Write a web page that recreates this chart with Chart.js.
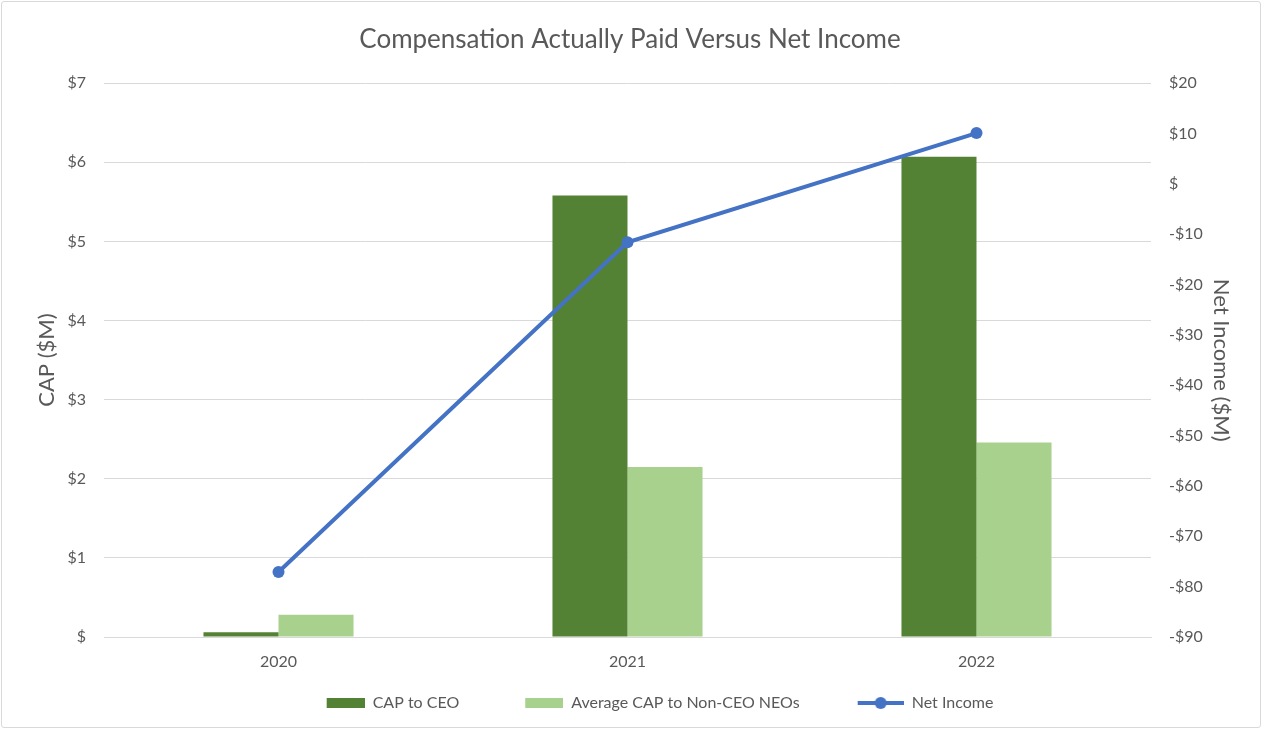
<!DOCTYPE html>
<html>
<head>
<meta charset="utf-8">
<script src="https://cdn.jsdelivr.net/npm/chart.js@4"></script>
<style>
html,body{margin:0;padding:0;background:#fff;}
#wrap{position:absolute;left:1px;top:1px;width:1260px;height:727px;border:1px solid #d9d9d9;border-radius:3px;box-sizing:border-box;background:#fff;}
canvas{display:block;}
</style>
</head>
<body>
<div id="wrap"><canvas id="c" width="1258" height="725"></canvas></div>
<script>
const categories = ['2020', '2021', '2022'];
const capToCEO = [0.06, 5.58, 6.07];
const avgCapNonCEO = [0.28, 2.15, 2.46];
const netIncome = [-77.1, -11.6, 10.1];
const leftTicks = [0, 1, 2, 3, 4, 5, 6, 7];
const rightTicks = [-90, -80, -70, -60, -50, -40, -30, -20, -10, 0, 10, 20];

const FONT = 'Lato, "Open Sans", "Liberation Sans", sans-serif';
const TXT = '#595959';
const C_CEO = '#548235';
const C_NEO = '#A9D18E';
const C_NI = '#4472C4';

const IMG_W = 98;
function boxImg(color){
  const cv = document.createElement('canvas');
  cv.width = IMG_W; cv.height = 10;
  const g = cv.getContext('2d');
  g.fillStyle = color; g.fillRect(IMG_W-38,0,38,10);
  return cv;
}
function lineImg(color){
  const cv = document.createElement('canvas');
  cv.width = IMG_W; cv.height = 14;
  const g = cv.getContext('2d');
  g.strokeStyle = color; g.lineWidth = 4;
  g.beginPath(); g.moveTo(IMG_W-46,7); g.lineTo(IMG_W,7); g.stroke();
  g.fillStyle = color; g.beginPath(); g.arc(IMG_W-23,7,6,0,Math.PI*2); g.fill();
  return cv;
}
const legendImgs = [boxImg(C_CEO), boxImg(C_NEO), lineImg(C_NI)];

new Chart(document.getElementById('c'), {
  data: {
    labels: categories,
    datasets: [
      {type:'bar', label:'CAP to CEO', data: capToCEO, backgroundColor: C_CEO, yAxisID:'y', order:1,
       categoryPercentage:0.43, barPercentage:1.0},
      {type:'bar', label:'Average CAP to Non-CEO NEOs', data: avgCapNonCEO, backgroundColor: C_NEO, yAxisID:'y', order:1,
       categoryPercentage:0.43, barPercentage:1.0},
      {type:'line', label:'Net Income', data: netIncome, borderColor: C_NI, backgroundColor: C_NI, borderWidth:4,
       pointRadius:6, pointHoverRadius:6, pointBackgroundColor:C_NI, pointBorderWidth:0, yAxisID:'y1', order:0, tension:0}
    ]
  },
  options: {
    responsive:false,
    animation:false,
    layout:{padding:{left:20, right:22, top:10, bottom:6}},
    plugins:{
      title:{display:true, text:'Compensation Actually Paid Versus Net Income', color:TXT,
        font:{family:FONT, size:26, weight:'normal'}, padding:{top:12, bottom:28}},
      legend:{position:'bottom', labels:{
        color:TXT, font:{family:FONT, size:16}, usePointStyle:true, pointStyleWidth:IMG_W, padding:6,
        generateLabels:(chart)=> chart.data.datasets.map((ds,i)=>({
          text: ds.label, fillStyle: ds.backgroundColor, strokeStyle: ds.backgroundColor, lineWidth:0,
          pointStyle: legendImgs[i], datasetIndex:i, hidden:false, fontColor:TXT
        }))
      }},
      tooltip:{enabled:false}
    },
    scales:{
      x:{grid:{display:false}, border:{display:true, color:'#d9d9d9'},
         afterFit:(s)=>{s.height = 52;},
         ticks:{color:TXT, font:{family:FONT, size:16}, padding:7}},
      y:{position:'left', min:0, max:7, afterBuildTicks:(a)=>{a.ticks = leftTicks.map(v=>({value:v}));},
         afterFit:(s)=>{s.width = 82;},
         grid:{color:'#d9d9d9', drawTicks:false}, border:{display:false},
         ticks:{color:TXT, font:{family:FONT, size:16}, padding:18, callback:(v)=> v===0 ? '$' : '$'+v},
         title:{display:true, text:'CAP ($M)', color:TXT, font:{family:FONT, size:22}, padding:{top:12, bottom:0}}},
      y1:{position:'right', min:-90, max:20, afterBuildTicks:(a)=>{a.ticks = rightTicks.map(v=>({value:v}));},
         afterFit:(s)=>{s.width = 87;},
         grid:{display:false, drawTicks:false}, border:{display:false},
         ticks:{color:TXT, font:{family:FONT, size:16}, padding:18,
           callback:(v)=> v===0 ? '$' : (v<0 ? '-$'+Math.abs(v) : '$'+v)},
         title:{display:true, text:'Net Income ($M)', color:TXT, font:{family:FONT, size:22}, padding:{top:4, bottom:0}}}
    }
  }
});
</script>
</body>
</html>
